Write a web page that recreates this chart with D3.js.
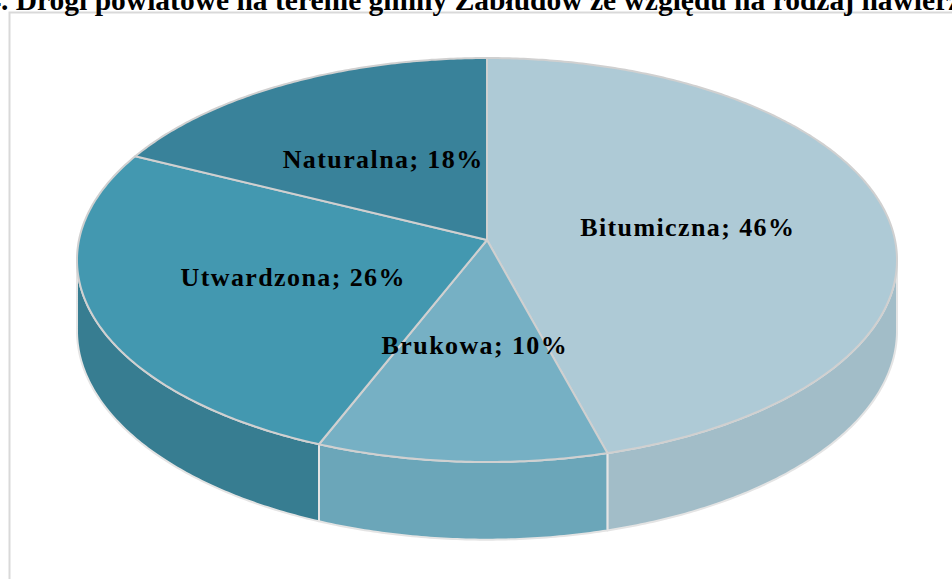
<!DOCTYPE html>
<html>
<head>
<meta charset="utf-8">
<script src="https://cdn.jsdelivr.net/npm/d3@7"></script>
<style>
  body { margin: 0; background: #fff; }
  svg { display: block; }
</style>
</head>
<body>
<div id="chart"></div>
<script>
// data
let categories = ['Bitumiczna', 'Brukowa', 'Utwardzona', 'Naturalna']
let shares = [45.7, 10.4, 26.1, 17.8]
let labelPct = ['46%', '10%', '26%', '18%']
let topColors = ['#aecad6', '#76b0c4', '#4398b0', '#39829a']
let sideColors = ['#a2bdc8', '#6ba6b9', '#377d91', '#33768a']
let titleText = 'Wykres 4. Drogi powiatowe na terenie gminy Zabłudów ze względu na rodzaj nawierzchni'

var width = 952
var height = 579

// pseudo 3D projection of the pie disc
var cx = 487
var cy = 240
var A = 408     // horizontal radius
var B = 200     // vertical radius
var persp = 0.099
var depth = 70

function proj (r, theta, h) {
  let u = r * Math.cos(theta)
  let s = r * Math.sin(theta)
  let d = 1 + persp * u
  return [cx + A * s / d, cy - B * u / d + h / d]
}

var data = categories.map(function (c, i) {
  return {name: c, value: shares[i], label: labelPct[i], top: topColors[i], side: sideColors[i]}
})

var pie = d3.pie()
  .sort(null)
  .value(function (d) { return d.value })
  .startAngle(0)
  .endAngle(2 * Math.PI)

var arcs = pie(data)

var svg = d3.select('#chart')
  .append('svg')
  .attr('width', width)
  .attr('height', height)

// plot area border
svg.append('rect')
  .attr('x', 9.5)
  .attr('y', 12.5)
  .attr('width', 990)
  .attr('height', 620)
  .attr('fill', 'none')
  .attr('stroke', '#d9d9d9')
  .attr('stroke-width', 2)

var line = d3.line()

function rimPoints (a0, a1, h) {
  let pts = []
  let n = Math.max(2, Math.ceil((a1 - a0) / 0.01))
  for (let k = 0; k <= n; k++) {
    pts.push(proj(1, a0 + (a1 - a0) * k / n, h))
  }
  return pts
}

// visible part of the outer wall
var visStart = Math.acos(-persp)
var visEnd = 2 * Math.PI - visStart

var sides = arcs.filter(function (a) {
  return a.endAngle > visStart && a.startAngle < visEnd
})

svg.selectAll('path.side')
  .data(sides)
  .enter()
  .append('path')
  .attr('class', 'side')
  .attr('d', function (a) {
    let s0 = Math.max(a.startAngle, visStart)
    let s1 = Math.min(a.endAngle, visEnd)
    let pts = rimPoints(s0, s1, 0).concat(rimPoints(s0, s1, depth).reverse())
    return line(pts) + 'Z'
  })
  .attr('fill', function (a) { return a.data.side })
  .attr('stroke', '#e4e4e4')
  .attr('stroke-width', 2)
  .attr('stroke-linejoin', 'round')

// top faces
svg.selectAll('path.top')
  .data(arcs)
  .enter()
  .append('path')
  .attr('class', 'top')
  .attr('d', function (a) {
    let pts = [proj(0, 0, 0)].concat(rimPoints(a.startAngle, a.endAngle, 0))
    return line(pts) + 'Z'
  })
  .attr('fill', function (a) { return a.data.top })
  .attr('stroke', '#d0d0d0')
  .attr('stroke-width', 2)
  .attr('stroke-linejoin', 'round')

// data labels
svg.selectAll('text.lbl')
  .data(arcs)
  .enter()
  .append('text')
  .attr('class', 'lbl')
  .attr('x', function (a) { return proj(0.5, (a.startAngle + a.endAngle) / 2, 0)[0] })
  .attr('y', function (a) { return proj(0.5, (a.startAngle + a.endAngle) / 2, 0)[1] })
  .attr('dy', '0.35em')
  .attr('text-anchor', 'middle')
  .attr('font-family', '"Liberation Serif", "Times New Roman", serif')
  .attr('font-weight', 'bold')
  .attr('font-size', 26)
  .attr('letter-spacing', 1.4)
  .attr('fill', '#000')
  .text(function (a) { return a.data.name + '; ' + a.data.label })

// title, clipped at the top like the original
var title = svg.append('text')
  .attr('y', 10)
  .attr('font-family', '"Liberation Serif", "Times New Roman", serif')
  .attr('font-weight', 'bold')
  .attr('font-size', 29.5)
  .attr('fill', '#000')
  .text(titleText)
var prefixW = title.node().getSubStringLength(0, titleText.indexOf('.'))
title.attr('x', 1 - prefixW)
</script>
</body>
</html>
